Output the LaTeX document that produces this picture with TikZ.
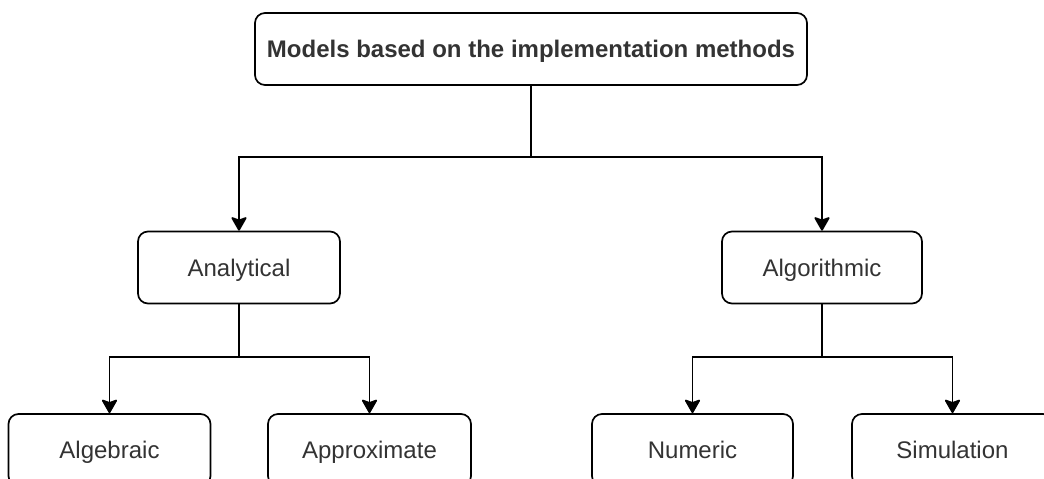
\documentclass[tikz,border=0pt]{standalone}
\usepackage{fontspec}
\setmainfont{Liberation Sans}
\usetikzlibrary{arrows.meta}
\definecolor{txt}{HTML}{333333}
\tikzset{
  box/.style={draw=black, line width=1.7pt, rounded corners=10pt, fill=white,
    minimum height=72pt, inner sep=0pt, text=txt, font=\fontsize{24}{28}\selectfont,
    text height=17.2pt, text depth=0pt, anchor=center},
  arr/.style={draw=black, line width=1.7pt, -{Stealth[length=15pt,width=17pt,inset=3pt,round=false]}},
  ln/.style={draw=black, line width=1.7pt}
}
\begin{document}
\begin{tikzpicture}[x=1pt,y=-1pt]
\useasboundingbox[fill=white] (0,0) rectangle (1044,479);
\node[box, minimum width=552pt, font=\bfseries\fontsize{24}{28}\selectfont] (top) at (531,49) {Models based on the implementation methods};
\node[box, minimum width=202pt] (ana) at (239,267.5) {Analytical};
\node[box, minimum width=200pt] (alg) at (822,267.5) {Algorithmic};
\node[box, minimum width=202pt] (a1) at (109.5,450) {Algebraic};
\node[box, minimum width=203pt] (a2) at (369.5,450) {Approximate};
\node[box, minimum width=201pt] (n1) at (692.5,450) {Numeric};
\node[box, minimum width=201pt] (s1) at (952.5,450) {Simulation};
\coordinate (j0) at (531,157);
\coordinate (j1) at (239,357);
\coordinate (j2) at (822,357);
\draw[ln] (top.south) -- (j0);
\draw[arr] (j0) -| (ana.north);
\draw[arr] (j0) -| (alg.north);
\draw[ln] (ana.south) -- (j1);
\draw[arr] (j1) -| (a1.north);
\draw[arr] (j1) -| (a2.north);
\draw[ln] (alg.south) -- (j2);
\draw[arr] (j2) -| (n1.north);
\draw[arr] (j2) -| (s1.north);
\end{tikzpicture}
\end{document}
